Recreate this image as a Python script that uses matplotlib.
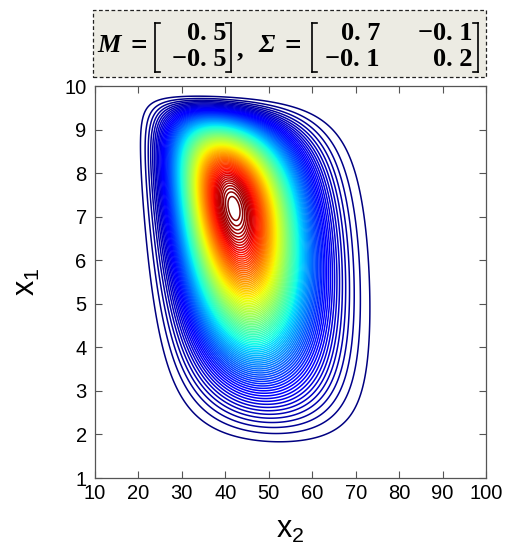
import numpy as np
import matplotlib
matplotlib.use('Agg')
import matplotlib.pyplot as plt
from matplotlib.patches import Rectangle
from matplotlib.lines import Line2D

# parameters shown in the header (logit-normal on a bounded box)
M = [0.5, -0.5]
Sigma = [[0.7, -0.1], [-0.1, 0.2]]
x1_bounds = [1, 10]
x2_bounds = [10, 100]
x_ticks = [10, 20, 30, 40, 50, 60, 70, 80, 90, 100]
y_ticks = [1, 2, 3, 4, 5, 6, 7, 8, 9, 10]
n_levels = 100

# density on a grid
x2 = np.linspace(x2_bounds[0], x2_bounds[1], 602)[1:-1]
x1 = np.linspace(x1_bounds[0], x1_bounds[1], 602)[1:-1]
X2, X1 = np.meshgrid(x2, x1)
a1, b1 = x1_bounds
a2, b2 = x2_bounds
u1 = (X1 - a1) / (b1 - a1)
u2 = (X2 - a2) / (b2 - a2)
z1 = np.log(u1 / (1 - u1))
z2 = np.log(u2 / (1 - u2))
S = np.array(Sigma)
Si = np.linalg.inv(S)
d1 = z1 - M[0]
d2 = z2 - M[1]
q = Si[0, 0] * d1 ** 2 + 2 * Si[0, 1] * d1 * d2 + Si[1, 1] * d2 ** 2
pdf = np.exp(-0.5 * q) / (2 * np.pi * np.sqrt(np.linalg.det(S)))
jac = (b1 - a1) / ((X1 - a1) * (b1 - X1)) * (b2 - a2) / ((X2 - a2) * (b2 - X2))
Z = pdf * jac

plt.rcParams['mathtext.fontset'] = 'custom'
plt.rcParams['mathtext.rm'] = 'Liberation Sans'
plt.rcParams['mathtext.it'] = 'Liberation Sans'
plt.rcParams['mathtext.default'] = 'regular'

fig = plt.figure(figsize=(5.06, 5.54), dpi=100)
W, H = 506, 554
ax = fig.add_axes([95 / W, 1 - 478 / H, (486 - 95) / W, (478 - 86) / H])

levels = np.linspace(Z.min(), Z.max(), n_levels + 2)[1:-1]
ax.contour(X2, X1, Z, levels=levels, cmap='jet', linewidths=1.1)

ax.set_xlim(10, 100)
ax.set_ylim(1, 10)
ax.set_xticks(x_ticks)
ax.set_yticks(y_ticks)
ax.tick_params(direction='in', top=True, right=True, length=5, width=0.8,
               color='#555555', labelsize=14.5, pad=4)
ax.tick_params(axis='y', pad=6)
for lab in ax.get_xticklabels() + ax.get_yticklabels():
    lab.set_family('Liberation Sans')
for sp in ax.spines.values():
    sp.set_color('#555555')
    sp.set_linewidth(0.9)

ax.set_xlabel('x$_2$', fontsize=22, family='Liberation Sans', labelpad=9)
ax.set_ylabel('x$_1$', fontsize=22, family='Liberation Sans', labelpad=16)

# header box
def fx(px):
    return px / W

def fy(py):
    return 1 - py / H

fig.patches.append(Rectangle((fx(93), fy(77)), fx(486) - fx(93), fy(10) - fy(77),
                             transform=fig.transFigure, facecolor='#ecebe3',
                             edgecolor='#222222', linestyle=(0, (3, 2)), linewidth=0.9))

def bracket(px, left):
    top, bot = 23, 72
    s = 5 if left else -5
    for xs, ys in [([px, px], [top, bot]), ([px, px + s], [top, top]), ([px, px + s], [bot, bot])]:
        fig.lines.append(Line2D([fx(v) for v in xs], [fy(v) for v in ys],
                                transform=fig.transFigure, color='black', linewidth=1.2))

tkw = dict(family='Liberation Serif', weight='bold', fontsize=19, va='center')
ekw = dict(family='Liberation Serif', weight='bold', fontsize=21, va='center')
r1, r2, mid = 33, 60, 46
fig.text(fx(97), fy(mid), 'M', style='italic', ha='left', **tkw)
fig.text(fx(130), fy(mid), '=', ha='left', **ekw)
bracket(155, True)
fig.text(fx(227), fy(r1), '0. 5', ha='right', **tkw)
fig.text(fx(227), fy(r2), '\u22120. 5', ha='right', **tkw)
bracket(231, False)
fig.text(fx(237), fy(mid + 4), ',', ha='left', **tkw)
fig.text(fx(258), fy(mid), '\u03a3', style='italic', ha='left', **tkw)
fig.text(fx(285), fy(mid), '=', ha='left', **ekw)
bracket(312, True)
fig.text(fx(380), fy(r1), '0. 7', ha='right', **tkw)
fig.text(fx(380), fy(r2), '\u22120. 1', ha='right', **tkw)
fig.text(fx(473), fy(r1), '\u22120. 1', ha='right', **tkw)
fig.text(fx(473), fy(r2), '0. 2', ha='right', **tkw)
bracket(478, False)

fig.savefig('out.png', dpi=100)
